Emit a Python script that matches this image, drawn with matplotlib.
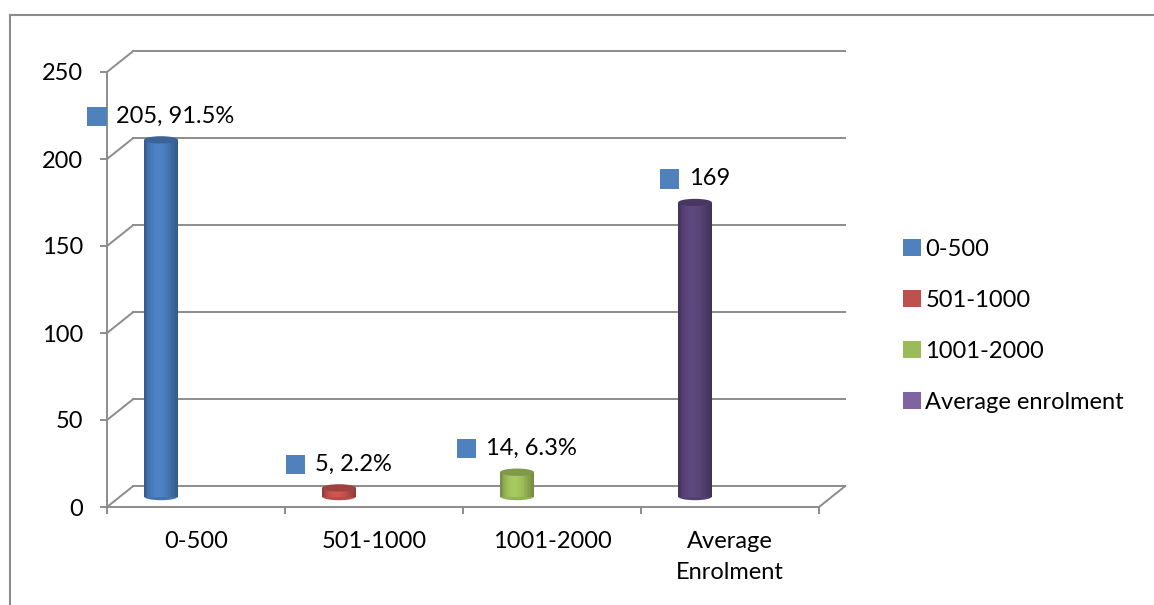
import matplotlib
matplotlib.use("Agg")
import matplotlib.pyplot as plt
import numpy as np
from matplotlib.patches import Ellipse, Rectangle, Patch
from matplotlib.lines import Line2D
from matplotlib.offsetbox import AnnotationBbox, HPacker, TextArea, DrawingArea
import matplotlib.colors as mcolors

plt.rcParams['font.family'] = ['Lato', 'DejaVu Sans']

categories = ['0-500', '501-1000', '1001-2000', 'Average\nEnrolment']
series = ['0-500', '501-1000', '1001-2000', 'Average enrolment']
values = [205, 5, 14, 169]
labels = ['205, 91.5%', '5, 2.2%', '14, 6.3%', '169']
colors = ['#4F81BD', '#C0504D', '#9BBB59', '#8064A2']
body_colors = ['#4779B8', '#C0504D', '#9BBB59', '#574376']
yticks = [0, 50, 100, 150, 200, 250]

grid_c = '#8C8C8C'
DX = 0.147   # depth offset, category units
DY = 12.0    # depth offset, value units

fig = plt.figure(figsize=(11.54, 6.05), dpi=100)
ax = fig.add_axes([107/1154, 98/605, 712/1154, 435/605])
ax.set_xlim(-0.5, 3.5)
ax.set_ylim(0, 250)

# back wall gridlines and left-wall diagonals
for v in yticks:
    ax.plot([-0.5 + DX, 3.5 + DX], [v + DY, v + DY], color=grid_c, lw=1.4,
            clip_on=False, zorder=1)
    ax.plot([-0.5, -0.5 + DX], [v, v + DY], color=grid_c, lw=1.4,
            clip_on=False, zorder=1)
ax.plot([3.5, 3.5 + DX], [0, DY], color=grid_c, lw=1.4, clip_on=False, zorder=1)

# cylinders
w = 0.19
n = 24
eh = 4.2
for i, v in enumerate(values):
    cx = i - 0.27 + DX / 2
    base = DY / 2
    rgb = np.array(mcolors.to_rgb(body_colors[i]))
    edges = np.linspace(cx - w / 2, cx + w / 2, n + 1)
    for k in range(n):
        t = (k + 0.5) / n
        f = 0.72 + 0.36 * np.sin(np.pi * t ** 0.8)
        c = np.clip(rgb * f, 0, 1)
        ax.bar(edges[k], v, width=w / n * 1.05, bottom=base, align='edge',
               color=c, lw=0, clip_on=False, zorder=3)
    ax.add_patch(Ellipse((cx, base), w, eh, color=np.clip(rgb * 0.95, 0, 1),
                         lw=0, clip_on=False, zorder=2.9))
    ax.add_patch(Ellipse((cx, base + v), w, eh, color=np.clip(rgb * 0.82, 0, 1),
                         lw=0, clip_on=False, zorder=4))

    # data label with blue square marker
    da = DrawingArea(14, 14, 0, 0)
    da.add_artist(Rectangle((0, 0), 14, 14, color=colors[0], lw=0))
    ta = TextArea(labels[i], textprops=dict(fontsize=17, color='black'))
    box = HPacker(children=[da, ta], align='center', pad=0, sep=7)
    ab = AnnotationBbox(box, (cx, base + v), xybox=(0, 17), xycoords='data',
                        boxcoords='offset points', frameon=False,
                        box_alignment=(0.5, 0.5), annotation_clip=False)
    ax.add_artist(ab)

# axes styling
for s in ['top', 'right']:
    ax.spines[s].set_visible(False)
for s in ['left', 'bottom']:
    ax.spines[s].set_color(grid_c)
    ax.spines[s].set_linewidth(1.4)
ax.set_yticks(yticks)
ax.set_yticklabels([str(t) for t in yticks])
ax.set_xticks(range(4))
ax.set_xticklabels(categories, linespacing=1.6)
ax.set_xticks(np.arange(-0.5, 3.6, 1), minor=True)
ax.tick_params(axis='x', which='major', length=0, pad=17, labelsize=17)
ax.tick_params(axis='x', which='minor', length=5, width=1.4, color=grid_c)
ax.tick_params(axis='y', length=5, width=1.4, color=grid_c, pad=12, labelsize=17)
ax.patch.set_alpha(0)

# legend
handles = [Patch(facecolor=c, edgecolor='none') for c in colors]
fig.legend(handles, series, loc='upper left', bbox_to_anchor=(891/1154, 1 - 227/605),
           frameon=False, fontsize=17, handlelength=0.75, handleheight=0.75,
           handletextpad=0.2, labelspacing=1.27, borderpad=0)

# outer chart frame
fig.add_artist(Line2D([10/1154, 1], [1 - 15/605, 1 - 15/605], color='#8C8C8C', lw=1.5))
fig.add_artist(Line2D([10/1154, 10/1154], [0, 1 - 15/605], color='#8C8C8C', lw=1.5))

fig.savefig('out.png', dpi=100)
